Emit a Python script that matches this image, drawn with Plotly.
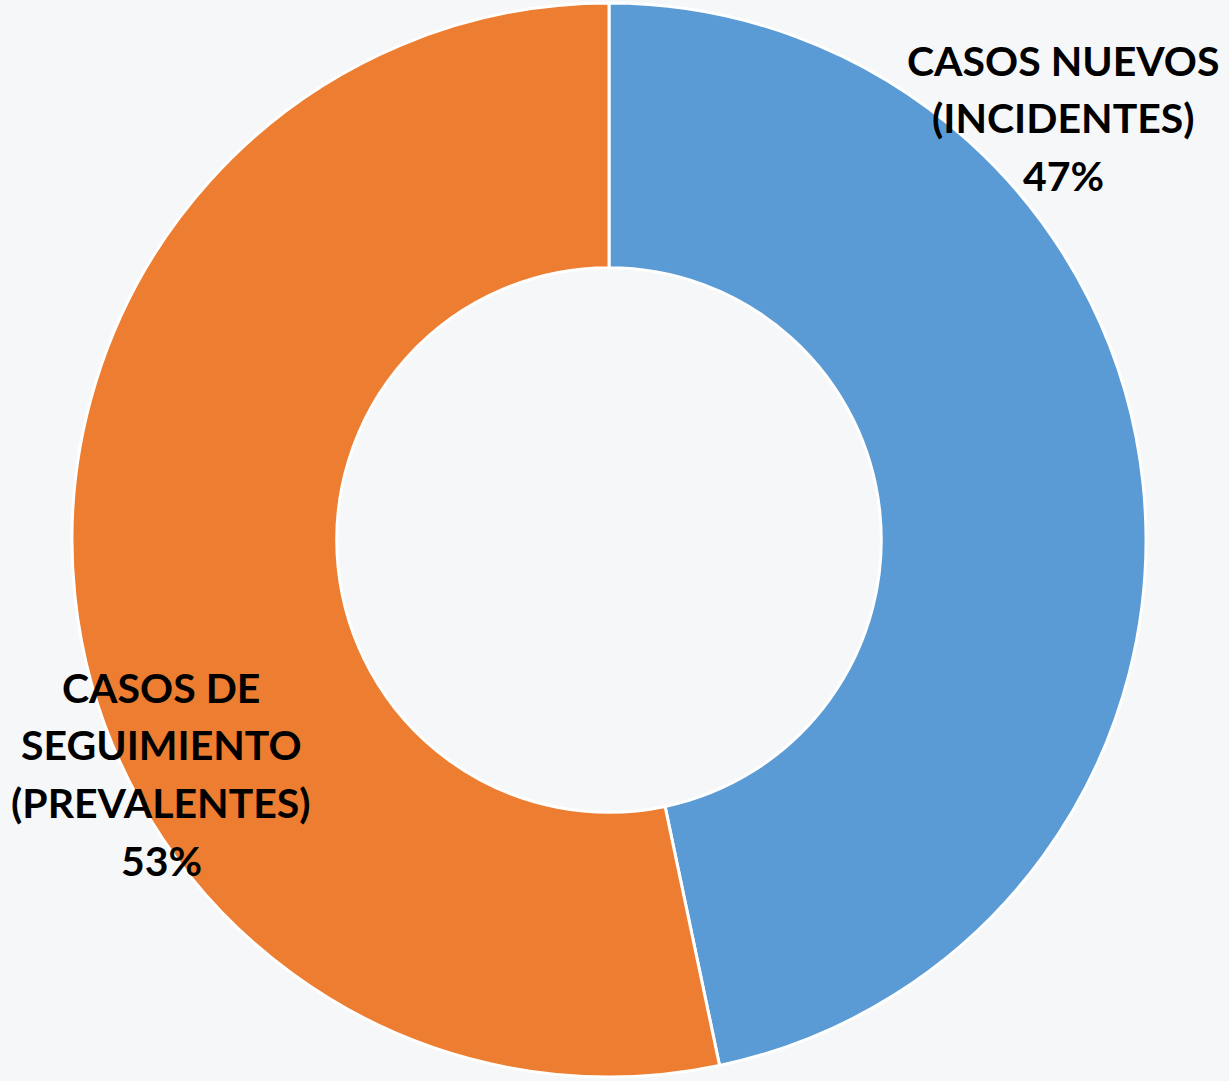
import plotly.graph_objects as go

categories = ["CASOS NUEVOS (INCIDENTES)", "CASOS DE SEGUIMIENTO (PREVALENTES)"]
label_lines = [["CASOS NUEVOS", "(INCIDENTES)"], ["CASOS DE", "SEGUIMIENTO", "(PREVALENTES)"]]
values = [46.7, 53.3]
colors = ["#5B9BD5", "#ED7D31"]

W, H = 1229, 1081
cx, cy, r = 609, 540, 537

fig = go.Figure(go.Pie(
    labels=categories,
    values=values,
    hole=0.507,
    sort=False,
    direction="clockwise",
    rotation=0,
    marker=dict(colors=colors, line=dict(color="white", width=3)),
    textinfo="none",
    hoverinfo="label+percent",
    showlegend=False,
    domain=dict(x=[(cx - r) / W, (cx + r) / W], y=[(H - cy - r) / H, (H - cy + r) / H]),
))

# label placement (pixels: center x, first line center y)
label_pos = [(1063, 60), (161, 687)]
line_gap = 57.7
total = sum(values)
annotations = []
for lines, v, (lx, ly) in zip(label_lines, values, label_pos):
    all_lines = lines + [f"{round(100 * v / total)}%"]
    for i, t in enumerate(all_lines):
        y = ly + i * line_gap
        annotations.append(dict(
            text=f"<b>{t}</b>", x=lx / W, y=1 - y / H, xref="paper", yref="paper",
            xanchor="center", yanchor="middle", showarrow=False,
            font=dict(family="Lato", size=41, color="black"),
        ))

fig.update_layout(
    width=W, height=H,
    margin=dict(l=0, r=0, t=0, b=0),
    paper_bgcolor="#F6F7F9",
    plot_bgcolor="#F6F7F9",
    annotations=annotations,
)

fig.write_html(
    "out.html",
    config={"displayModeBar": False},
    post_script="document.body.style.margin='0';document.body.style.background='#F6F7F9';",
)
